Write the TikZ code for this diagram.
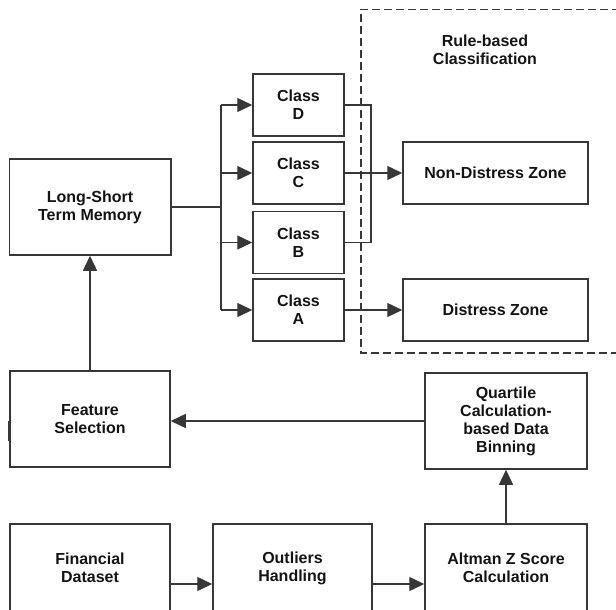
\documentclass[tikz,border=0pt]{standalone}
\usepackage{fontspec}
\setmainfont{Liberation Sans}
\usetikzlibrary{arrows.meta}
\definecolor{ln}{RGB}{55,55,55}
\definecolor{tx}{RGB}{20,20,20}
\tikzset{
  lbl/.style={text=tx, align=center, font=\bfseries\fontsize{16}{18}\selectfont},
  box/.style={lbl, draw=ln, line width=1.5pt, rectangle, inner sep=0pt},
  conn/.style={draw=ln, line width=1.4pt},
  arr/.style={conn, -{Triangle[length=15pt,width=14pt]}},
}
\begin{document}
\begin{tikzpicture}[x=1pt,y=-1pt]
\useasboundingbox (0,0) rectangle (616,610);
\begin{scope}
\clip (0,0) rectangle (616,610);
% dashed region
\draw[ln, line width=1.4pt, dash pattern=on 8pt off 4pt] (620,9.5) -- (361,9.5) -- (361,353) -- (620,353);
\node[lbl] (rule) at (485,50) {Rule-based\\Classification};
% nodes
\node[box, minimum width=161.5pt, minimum height=96pt] (lstm) at (90,207) {Long-Short\\Term Memory};
\node[box, minimum width=160pt, minimum height=96pt] (feat) at (90,419) {Feature\\Selection};
\node[box, minimum width=160pt, minimum height=88pt] (fin) at (90,568) {Financial\\Dataset};
\node[box, minimum width=159pt, minimum height=88pt] (out) at (292.5,568) {Outliers\\Handling};
\node[box, minimum width=162pt, minimum height=88pt] (alt) at (506,568) {Altman Z Score\\Calculation};
\node[box, minimum width=162pt, minimum height=96pt] (quart) at (506,421) {Quartile\\Calculation-\\based Data\\Binning};
\node[box, minimum width=91pt, minimum height=62pt] (cd) at (298.5,105) {Class\\D};
\node[box, minimum width=91pt, minimum height=62pt] (cc) at (298.5,173) {Class\\C};
\node[box, minimum width=91pt, minimum height=62pt] (cb) at (298.5,242.5) {Class\\B};
\node[box, minimum width=91pt, minimum height=62pt] (ca) at (298.5,310) {Class\\A};
\node[box, minimum width=185pt, minimum height=62pt] (nd) at (495.5,173) {Non-Distress Zone};
\node[box, minimum width=185pt, minimum height=62pt] (dz) at (495.5,310) {Distress Zone};
% coordinates
\coordinate (br) at (221,207);
\coordinate (mg) at (371,0);
\coordinate (ay) at (0,584);
% connectors
\draw[conn] (lstm.east |- br) -- (br);
\draw[conn] (br |- cd.west) -- (br |- ca.west);
\draw[arr] (br |- cd.west) -- (cd.west);
\draw[arr] (br |- cc.west) -- (cc.west);
\draw[arr] (br |- cb.west) -- (cb.west);
\draw[arr] (br |- ca.west) -- (ca.west);
\draw[conn] (cd.east) -- (mg |- cd.east) -- (mg |- cb.east) -- (cb.east);
\draw[arr] (cc.east) -- (nd.west);
\draw[arr] (ca.east) -- (dz.west);
\draw[arr] (feat.north) -- (lstm.south);
\draw[arr] (quart.west) -- (feat.east |- quart.west);
\draw[arr] (alt.north) -- (quart.south);
\draw[arr] (fin.east |- ay) -- (out.west |- ay);
\draw[arr] (out.east |- ay) -- (alt.west |- ay);
% small mark on Feature Selection edge
\draw[ln, line width=2.6pt] ([yshift=-22pt]feat.west) -- ([yshift=-2pt]feat.west);
\end{scope}
\end{tikzpicture}
\end{document}
